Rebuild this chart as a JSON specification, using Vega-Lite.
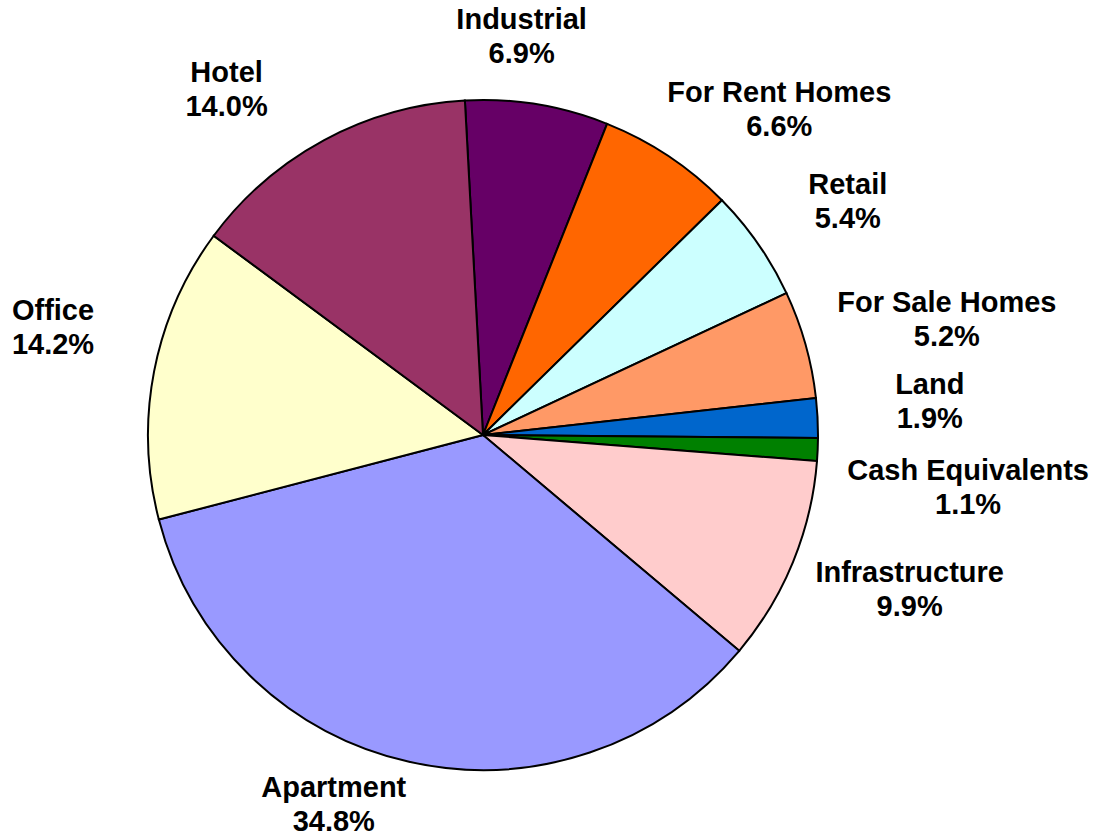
{
  "$schema": "https://vega.github.io/schema/vega-lite/v6.json",
  "width": 966,
  "height": 806,
  "autosize": {"type": "none"},
  "padding": {"left": 0, "top": 32, "right": 131, "bottom": 0},
  "background": "white",
  "config": {"view": {"stroke": null}, "text": {"font": "Liberation Sans", "fontSize": 29, "fontWeight": "bold", "lineBreak": "\n", "lineHeight": 34, "align": "center", "baseline": "middle", "fill": "black", "dy": -17}},
  "data": {
    "values": [
      {"category": "Industrial", "value": 6.9},
      {"category": "For Rent Homes", "value": 6.6},
      {"category": "Retail", "value": 5.4},
      {"category": "For Sale Homes", "value": 5.2},
      {"category": "Land", "value": 1.9},
      {"category": "Cash Equivalents", "value": 1.1},
      {"category": "Infrastructure", "value": 9.9},
      {"category": "Apartment", "value": 34.8},
      {"category": "Office", "value": 14.2},
      {"category": "Hotel", "value": 14.0}
    ]
  },
  "transform": [
    {"window": [{"op": "row_number", "as": "idx"}]},
    {"calculate": "datum.category + '\\n' + format(datum.value, '.1f') + '%'", "as": "label"}
  ],
  "encoding": {
    "theta": {"field": "value", "type": "quantitative", "stack": true, "scale": {"range": [-0.0541, 6.2291]}},
    "order": {"field": "idx", "type": "quantitative"},
    "detail": {"field": "category", "type": "nominal"}
  },
  "layer": [
    {
      "mark": {"type": "arc", "outerRadius": 335, "stroke": "black", "strokeWidth": 2},
      "encoding": {
        "color": {
          "field": "category", "type": "nominal", "legend": null,
          "scale": {
            "domain": ["Industrial", "For Rent Homes", "Retail", "For Sale Homes", "Land", "Cash Equivalents", "Infrastructure", "Apartment", "Office", "Hotel"],
            "range": ["#660066", "#FF6600", "#CCFFFF", "#FF9966", "#0066CC", "#008000", "#FFCCCC", "#9999FF", "#FFFFCC", "#993366"]
          }
        }
      }
    },
    {"mark": {"type": "text", "radius": 400, "thetaOffset": -0.066},
     "encoding": {"text": {"condition": {"test": "datum.category === 'Industrial'", "field": "label"}, "value": ""}}},
    {"mark": {"type": "text", "radius": 440, "thetaOffset": 0.152},
     "encoding": {"text": {"condition": {"test": "datum.category === 'For Rent Homes'", "field": "label"}, "value": ""}}},
    {"mark": {"type": "text", "radius": 433, "thetaOffset": 0.038},
     "encoding": {"text": {"condition": {"test": "datum.category === 'Retail'", "field": "label"}, "value": ""}}},
    {"mark": {"type": "text", "radius": 478, "thetaOffset": 0.030},
     "encoding": {"text": {"condition": {"test": "datum.category === 'For Sale Homes'", "field": "label"}, "value": ""}}},
    {"mark": {"type": "text", "radius": 448, "thetaOffset": -0.023},
     "encoding": {"text": {"condition": {"test": "datum.category === 'Land'", "field": "label"}, "value": ""}}},
    {"mark": {"type": "text", "radius": 488, "thetaOffset": 0.066},
     "encoding": {"text": {"condition": {"test": "datum.category === 'Cash Equivalents'", "field": "label"}, "value": ""}}},
    {"mark": {"type": "text", "radius": 454, "thetaOffset": -0.040},
     "encoding": {"text": {"condition": {"test": "datum.category === 'Infrastructure'", "field": "label"}, "value": ""}}},
    {"mark": {"type": "text", "radius": 399, "thetaOffset": 0.161},
     "encoding": {"text": {"condition": {"test": "datum.category === 'Apartment'", "field": "label"}, "value": ""}}},
    {"mark": {"type": "text", "radius": 443, "thetaOffset": 0.052},
     "encoding": {"text": {"condition": {"test": "datum.category === 'Office'", "field": "label"}, "value": ""}}},
    {"mark": {"type": "text", "radius": 430, "thetaOffset": -0.145},
     "encoding": {"text": {"condition": {"test": "datum.category === 'Hotel'", "field": "label"}, "value": ""}}}
  ]
}
